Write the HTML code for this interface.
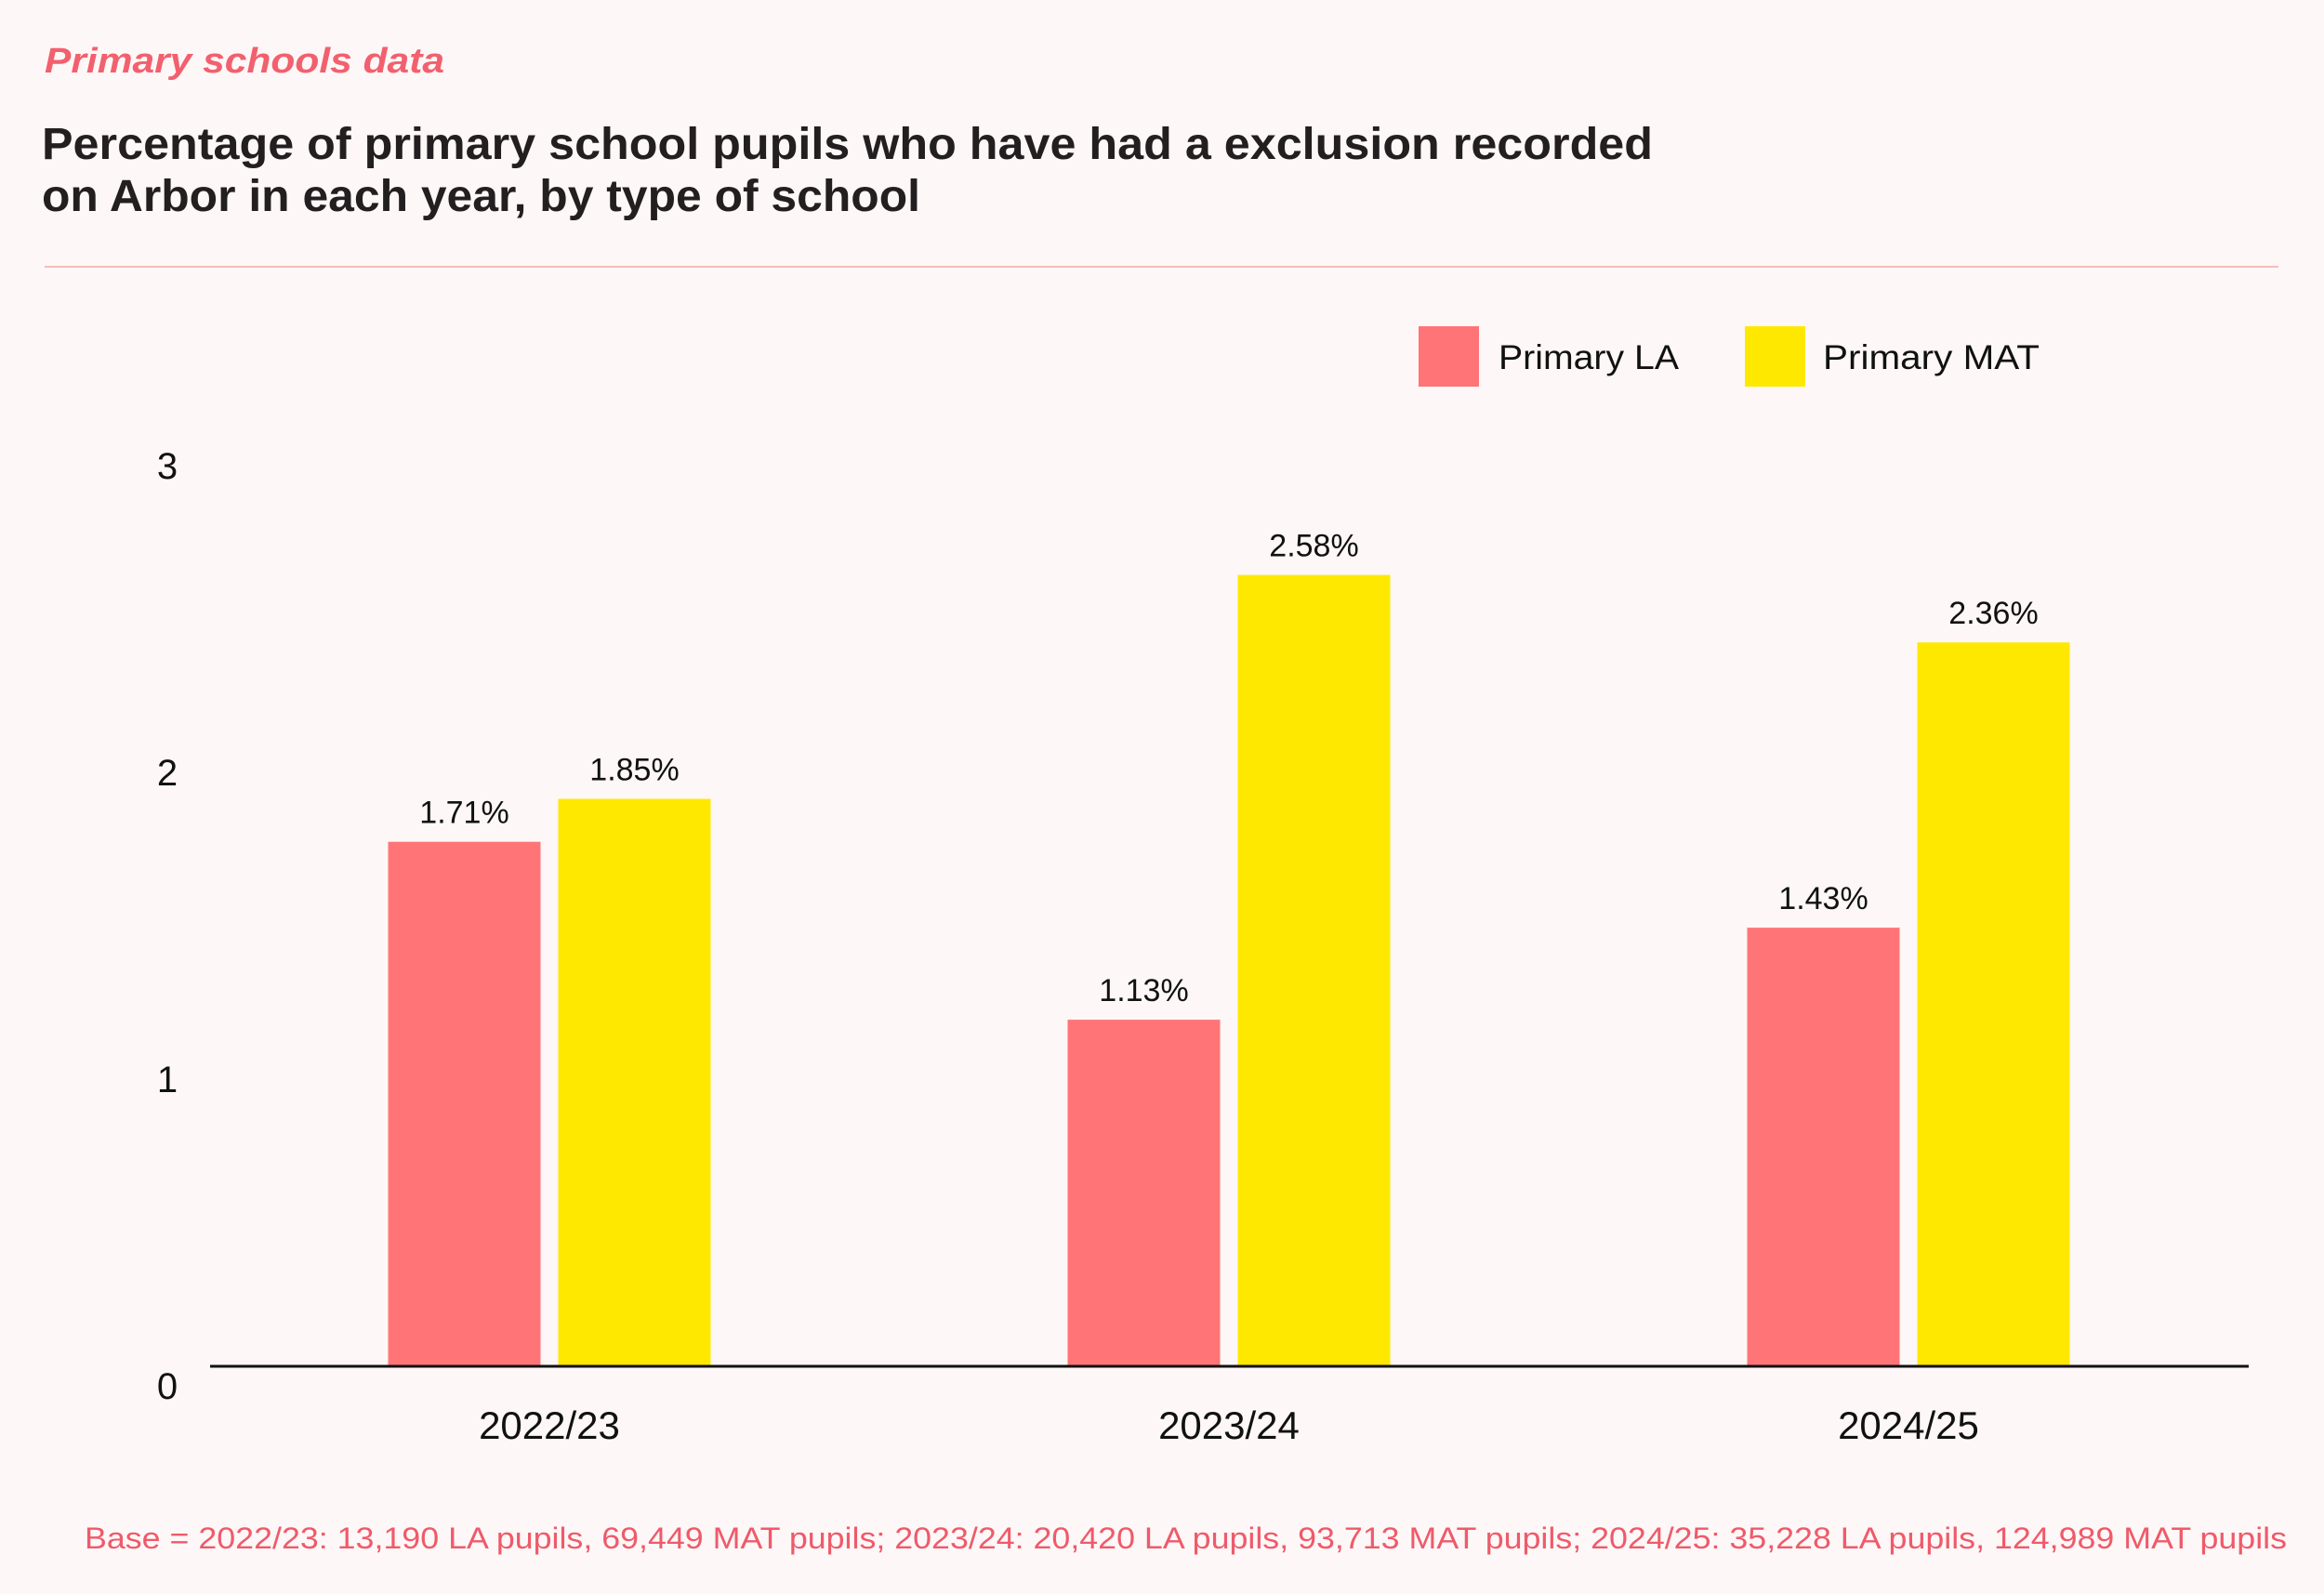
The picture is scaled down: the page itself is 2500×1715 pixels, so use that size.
<!DOCTYPE html>
<html><head><meta charset="utf-8"><style>
html,body{margin:0;padding:0;background:#fdf7f7;}
svg{display:block;font-family:"Liberation Sans",sans-serif;}
</style></head><body>
<svg id="chart" width="2500" height="1715" viewBox="0 0 2500 1715" xmlns="http://www.w3.org/2000/svg">
<rect width="2500" height="1715" fill="#fdf7f7"/>
<text x="48" y="78" font-size="38" font-style="italic" font-weight="bold" fill="#f2606e" textLength="430" lengthAdjust="spacingAndGlyphs">Primary schools data</text>
<text x="45" y="171" font-size="48" font-weight="bold" fill="#231f20" textLength="1733" lengthAdjust="spacingAndGlyphs">Percentage of primary school pupils who have had a exclusion recorded</text>
<text x="45" y="227" font-size="48" font-weight="bold" fill="#231f20" textLength="945" lengthAdjust="spacingAndGlyphs">on Arbor in each year, by type of school</text>
<line x1="48" y1="287" x2="2451" y2="287" stroke="#f8bcbc" stroke-width="2"/>
<g>
<rect x="1526" y="351" width="65" height="65" fill="#ff7577"/>
<text x="1612" y="397" font-size="37" fill="#111" textLength="194" lengthAdjust="spacingAndGlyphs">Primary LA</text>
<rect x="1877" y="351" width="65" height="65" fill="#ffe800"/>
<text x="1961" y="397" font-size="37" fill="#111" textLength="233" lengthAdjust="spacingAndGlyphs">Primary MAT</text>
</g>
<g id="plot"></g>
<text x="91" y="1666" font-size="32" fill="#ef5a6a" textLength="2369" lengthAdjust="spacingAndGlyphs">Base = 2022/23: 13,190 LA pupils, 69,449 MAT pupils; 2023/24: 20,420 LA pupils, 93,713 MAT pupils; 2024/25: 35,228 LA pupils, 124,989 MAT pupils</text>
</svg>
<script>
const categories = ["2022/23", "2023/24", "2024/25"];
const laValues = [1.71, 1.13, 1.43];
const matValues = [1.85, 2.58, 2.36];
const yTicks = [0, 1, 2, 3];

const NS = "http://www.w3.org/2000/svg";
const plot = document.getElementById("plot");
const y0 = 1470, unit = 330;
function yScale(v){ return y0 - unit * v; }
function xCenter(i){ return 591 + 731 * i; }
const barW = 164, gap = 19;
function mk(tag, attrs){ const e = document.createElementNS(NS, tag); for (const k in attrs) e.setAttribute(k, attrs[k]); plot.appendChild(e); return e; }

yTicks.forEach(t => {
  const e = mk("text", {x: 180, y: yScale(t) + 35, "font-size": 40, fill: "#111", "text-anchor": "middle"});
  e.textContent = String(t);
  
  
});

categories.forEach((c, i) => {
  const cx = xCenter(i);
  [[laValues[i], "#ff7577", cx - gap/2 - barW, "bar-la"], [matValues[i], "#ffe800", cx + gap/2, "bar-mat"]].forEach(([v, col, x, nm]) => {
    const r = mk("rect", {x: x, y: yScale(v), width: barW, height: y0 - yScale(v), fill: col});
    
    
    const t = mk("text", {x: x + barW/2, y: yScale(v) - 20, "font-size": 34, fill: "#111", "text-anchor": "middle"});
    t.textContent = v.toFixed(2) + "%";
    
    
  });
  const l = mk("text", {x: cx, y: 1548, "font-size": 42, fill: "#111", "text-anchor": "middle"});
  l.textContent = c;
  
  
});

const ax = mk("line", {x1: 226, y1: y0, x2: 2419, y2: y0, stroke: "#111", "stroke-width": 3});


</script>
</body></html>
